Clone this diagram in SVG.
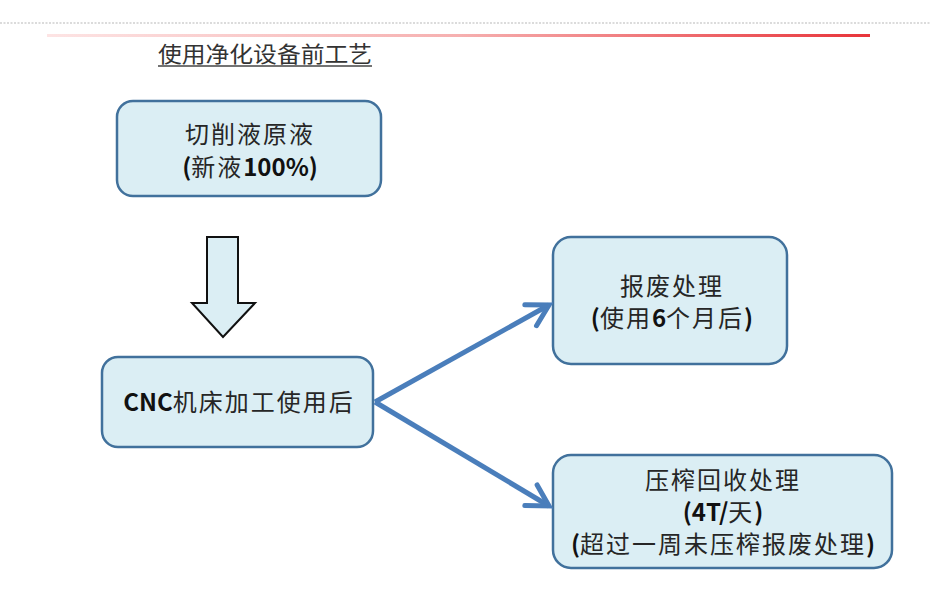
<svg xmlns="http://www.w3.org/2000/svg" width="930" height="592" viewBox="0 0 930 592">
<style>
.box{fill:#dbeef4;stroke:#41719c;stroke-width:2.5}
.t{font-family:"Noto Sans CJK SC","Noto Sans",sans-serif;font-size:24px;fill:#262626;text-anchor:middle;letter-spacing:2px}
.b{font-weight:700;fill:#111;letter-spacing:0}
.conn{fill:none;stroke:#4a7ebb;stroke-width:5}
</style>
<defs>
<linearGradient id="red" x1="0" x2="1" y1="0" y2="0">
<stop offset="0" stop-color="#fde4e4"/>
<stop offset="0.5" stop-color="#f6b0b0"/>
<stop offset="1" stop-color="#e8343a"/>
</linearGradient>
<marker id="arr" markerUnits="userSpaceOnUse" viewBox="0 0 30 30" markerWidth="30" markerHeight="30" refX="25" refY="15" orient="auto">
<path d="M4,3 L25,15 L4,27" fill="none" stroke="#4a7ebb" stroke-width="5" stroke-linecap="round" stroke-linejoin="miter"/>
</marker>
</defs>
<rect width="930" height="592" fill="#fff"/>
<line x1="0" y1="23" x2="930" y2="23" stroke="#cfcfcf" stroke-width="1.5" stroke-dasharray="2,1.5"/>
<rect x="47" y="34" width="823" height="3" fill="url(#red)"/>
<g id="title">
<text x="158" y="62" font-family="'Noto Sans CJK SC',sans-serif" font-size="22" fill="#333" textLength="214" lengthAdjust="spacingAndGlyphs">使用净化设备前工艺</text>
<line x1="158" y1="66" x2="372" y2="66" stroke="#444" stroke-width="1.5"/>
</g>
<g id="n1">
<rect class="box" x="117" y="101" width="264" height="95" rx="16"/>
<text class="t" x="250" y="143">切削液原液</text>
<text class="t" x="250" y="176"><tspan class="b">(</tspan>新液<tspan class="b">100%)</tspan></text>
</g>
<g id="down">
<polygon points="207,237 238,237 238,303 255,303 223,337 192,303 207,303" fill="#dbeef4" stroke="#111" stroke-width="2"/>
</g>
<g id="n2">
<rect class="box" x="102" y="357" width="271" height="90" rx="16"/>
<text class="t" x="239" y="411"><tspan class="b">CNC</tspan>机床加工使用后</text>
</g>
<g id="n3">
<rect class="box" x="553" y="237" width="234" height="127" rx="18"/>
<text class="t" x="672" y="295">报废处理</text>
<text class="t" x="672" y="327"><tspan class="b">(</tspan>使用<tspan class="b">6</tspan>个月后<tspan class="b">)</tspan></text>
</g>
<g id="n4">
<rect class="box" x="553" y="455" width="339" height="113" rx="18"/>
<text class="t" x="723" y="489">压榨回收处理</text>
<text class="t" x="723" y="521"><tspan class="b">(4T/</tspan>天<tspan class="b">)</tspan></text>
<text class="t" x="723" y="553"><tspan class="b">(</tspan>超过一周未压榨报废处理<tspan class="b">)</tspan></text>
</g>
<g id="connectors">
<path class="conn" d="M375,402 L549,305" marker-end="url(#arr)"/>
<path class="conn" d="M375,402 L549,506" marker-end="url(#arr)"/>
</g>
</svg>
